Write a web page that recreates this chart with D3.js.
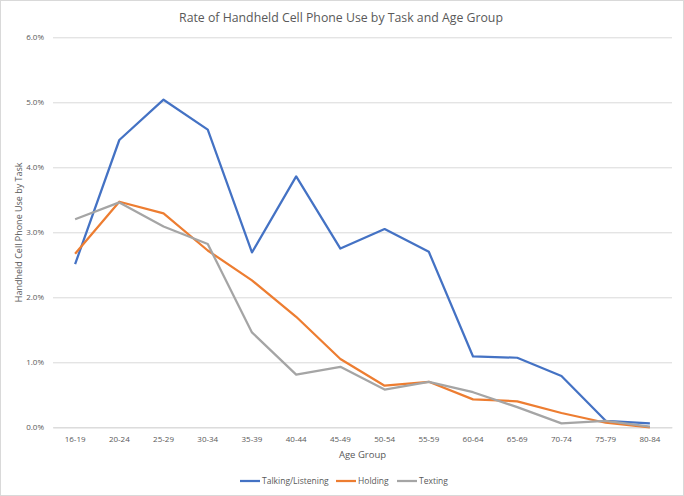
<!DOCTYPE html>
<html>
<head>
<meta charset="utf-8">
<script src="https://cdn.jsdelivr.net/npm/d3@7"></script>
<style>
  body { margin: 0; background: #fff; }
  text { font-family: "Open Sans", "Noto Sans", sans-serif; fill: #595959; }
</style>
</head>
<body>
<script>
var ageGroups = ["16-19", "20-24", "25-29", "30-34", "35-39", "40-44", "45-49",
  "50-54", "55-59", "60-64", "65-69", "70-74", "75-79", "80-84"];
var talking = [2.51, 4.42, 5.04, 4.58, 2.69, 3.86, 2.75, 3.05, 2.70, 1.09, 1.07, 0.79, 0.10, 0.06];
var holding = [2.67, 3.47, 3.29, 2.72, 2.26, 1.70, 1.05, 0.64, 0.70, 0.43, 0.40, 0.22, 0.07, 0.00];
var texting = [3.20, 3.46, 3.09, 2.82, 1.46, 0.81, 0.93, 0.58, 0.70, 0.54, 0.31, 0.06, 0.10, 0.01];
var yTicks = [0, 1, 2, 3, 4, 5, 6];

var seriesNames = ["Talking/Listening", "Holding", "Texting"];
var seriesColors = ["#4472C4", "#ED7D31", "#A5A5A5"];
var series = [talking, holding, texting];

(function drawChart() {
  var width = 684, height = 496;
  var svg = d3.select("body").append("svg")
    .attr("width", width)
    .attr("height", height);

  // outer chart border
  svg.append("rect")
    .attr("x", 0.5).attr("y", 0.5)
    .attr("width", width - 1).attr("height", height - 1)
    .attr("fill", "#fff").attr("stroke", "#d9d9d9");

  var plotLeft = 53, plotRight = 672, plotTop = 37.3, plotBottom = 427.3;

  var x = d3.scaleBand().domain(ageGroups).range([plotLeft, plotRight]);
  var y = d3.scaleLinear().domain([0, 6]).range([plotBottom, plotTop]);

  // gridlines + y labels
  var yAxis = d3.axisLeft(y).tickValues(yTicks)
    .tickSize(-(plotRight - plotLeft))
    .tickFormat(function(d) { return d.toFixed(1) + "%"; })
    .tickPadding(9);
  var gy = svg.append("g").attr("transform", "translate(" + plotLeft + ",0)").call(yAxis);
  gy.select(".domain").remove();
  gy.selectAll(".tick line").attr("stroke", "#d9d9d9");
  gy.selectAll(".tick text").attr("font-size", 8).attr("fill", "#595959")
    .attr("font-family", "Open Sans, sans-serif");

  var xAxis = d3.axisBottom(x).tickSize(0).tickPadding(9);
  var gx = svg.append("g").attr("transform", "translate(0," + plotBottom + ")").call(xAxis);
  gx.select(".domain").attr("stroke", "#d9d9d9");
  gx.selectAll(".tick text").attr("font-size", 8).attr("fill", "#595959")
    .attr("font-family", "Open Sans, sans-serif");

  var line = d3.line()
    .x(function(d, i) { return x(ageGroups[i]) + x.bandwidth() / 2; })
    .y(function(d) { return y(d); });

  series.forEach(function(s, i) {
    svg.append("path")
      .datum(s)
      .attr("d", line)
      .attr("fill", "none")
      .attr("stroke", seriesColors[i])
      .attr("stroke-width", 2.25)
      .attr("stroke-linejoin", "round");
  });

  // title and axis titles
  svg.append("text")
    .attr("x", 341).attr("y", 22)
    .attr("text-anchor", "middle")
    .attr("font-size", 12.3)
    .text("Rate of Handheld Cell Phone Use by Task and Age Group");

  svg.append("text")
    .attr("x", (plotLeft + plotRight) / 2).attr("y", 458)
    .attr("text-anchor", "middle")
    .attr("font-size", 9.5)
    .text("Age Group");

  svg.append("text")
    .attr("transform", "translate(22," + ((plotTop + plotBottom) / 2) + ") rotate(-90)")
    .attr("text-anchor", "middle")
    .attr("font-size", 9)
    .text("Handheld Cell Phone Use by Task");

  // legend
  var legendX = [240, 336, 397];
  var leg = svg.selectAll(".legend").data(seriesNames).enter().append("g")
    .attr("class", "legend")
    .attr("transform", function(d, i) { return "translate(" + legendX[i] + ",481)"; });
  leg.append("line")
    .attr("x1", 0).attr("x2", 20)
    .attr("stroke", function(d, i) { return seriesColors[i]; })
    .attr("stroke-width", 2.25);
  leg.append("text")
    .attr("x", 22).attr("y", 3)
    .attr("font-size", 8.5)
    .text(function(d) { return d; });
})();
</script>
</body>
</html>
